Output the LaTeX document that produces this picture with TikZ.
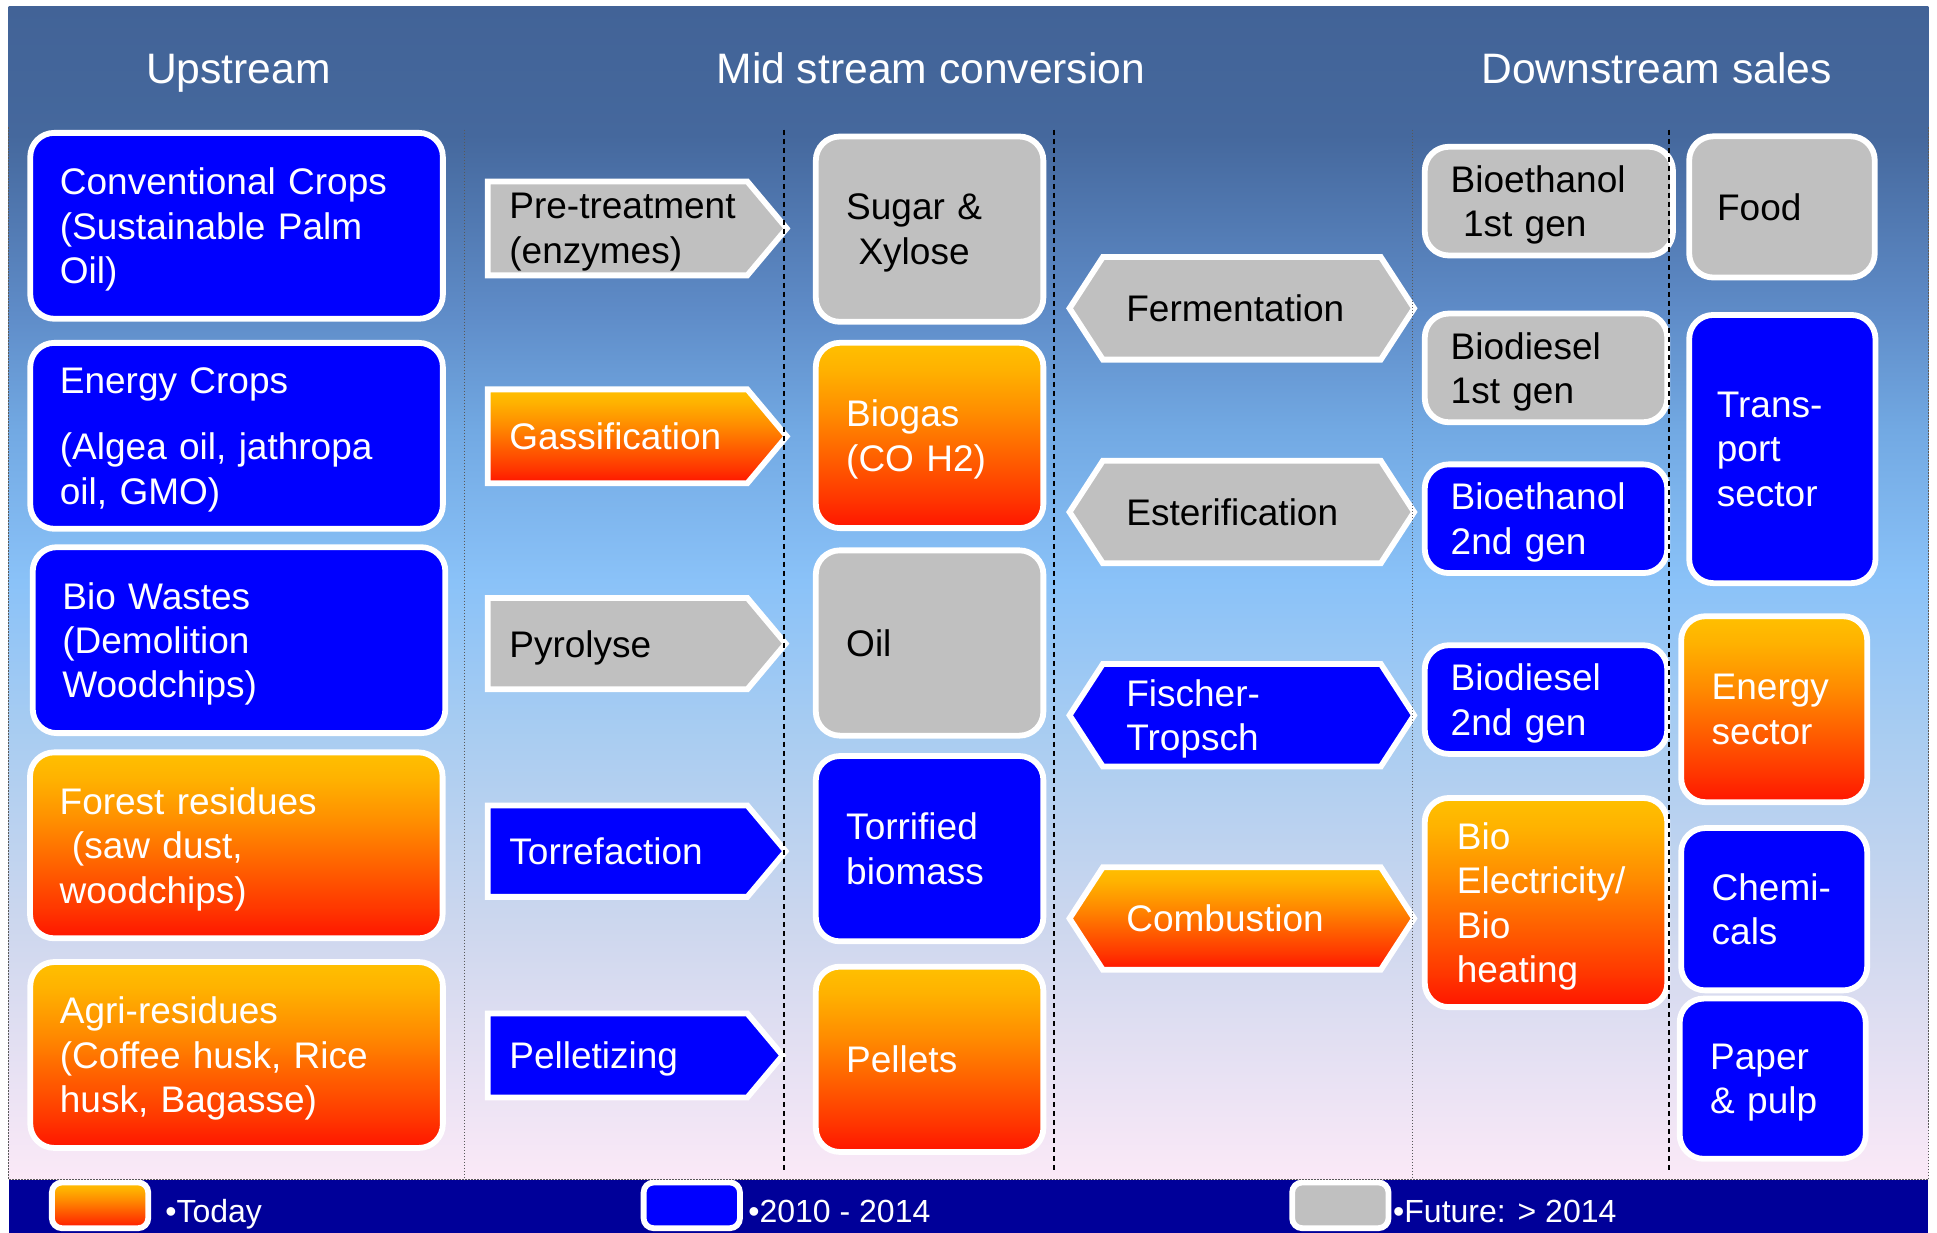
\documentclass[tikz,border=0pt]{standalone}
\usepackage{fontspec}
\setmainfont{Liberation Sans}
\usetikzlibrary{shapes.symbols}

\tikzset{
every picture/.style={
line width=1pt
}}

\definecolor{soonblue}{RGB}{0,0,255}
\definecolor{futuregray}{RGB}{192,192,192}
\definecolor{legendnavy}{RGB}{0,0,153}
\definecolor{bgA}{RGB}{66,99,151}
\definecolor{bgB}{RGB}{69,104,157}
\definecolor{bgC}{RGB}{94,139,199}
\definecolor{bgD}{RGB}{114,169,227}
\definecolor{bgE}{RGB}{138,194,248}
\definecolor{bgF}{RGB}{170,205,241}
\definecolor{bgG}{RGB}{205,215,238}
\definecolor{bgH}{RGB}{251,233,247}
\definecolor{orA}{RGB}{255,192,0}
\definecolor{orB}{RGB}{255,178,0}
\definecolor{orC}{RGB}{255,140,0}
\definecolor{orD}{RGB}{255,95,0}
\definecolor{orE}{RGB}{255,55,0}
\definecolor{orF}{RGB}{255,20,0}

\pgfdeclareverticalshading{bgshade}{100bp}{color(0bp)=(bgH); color(25bp)=(bgH);
  color(35.8bp)=(bgG); color(43.7bp)=(bgF); color(50.5bp)=(bgE); color(56.9bp)=(bgD);
  color(62.1bp)=(bgC); color(69.5bp)=(bgB); color(75bp)=(bgA); color(100bp)=(bgA)}
\pgfdeclareverticalshading{todayshade}{100bp}{color(0bp)=(orF); color(25bp)=(orF);
  color(33bp)=(orE); color(44bp)=(orD); color(56bp)=(orC); color(68bp)=(orB);
  color(75bp)=(orA); color(100bp)=(orA)}

% one unit = one pixel of the 1568 wide layout
\newlength\pu
\setlength\pu{0.61765pt}
% drop the descender of the last line, so text sits centred on its caps
\newcommand\nolastdepth{\par\kern-\prevdepth}

\begin{document}
\begin{tikzpicture}[x=\pu, y=-\pu,
txt/.style = {font=\fontsize{18.5}{22.2}\selectfont, align=left, inner ysep=0pt,
  execute at end node=\nolastdepth},
item/.style = {txt, rectangle, rounded corners=12pt, draw=white, line width=2.9pt},
proc/.style = {txt, signal, signal to=east, signal from=nowhere, signal pointer angle=100,
  draw=white, line width=2.9pt, anchor=west, minimum height=76\pu, text width=175\pu, inner xsep=17.6\pu},
conv/.style = {txt, signal, signal to=west and east, signal from=nowhere, signal pointer angle=114,
  draw=white, line width=2.9pt, anchor=west, minimum height=83\pu, text width=187\pu, inner xsep=19\pu},
col1/.style = {item, text width=286\pu, inner xsep=24\pu, minimum height=150.5\pu},
col3/.style = {item, text width=135\pu, inner xsep=24.6\pu, minimum height=150\pu},
col5/.style = {item, text width=154.3\pu, inner xsep=21\pu, minimum height=88\pu},
col6/.style = {item, text width=101.2\pu, inner xsep=24.7\pu},
today/.style = {shading=todayshade, text=white},
soon/.style = {fill=soonblue, text=white},
future/.style = {fill=futuregray, text=black},
head/.style = {font=\fontsize{21.3}{25}\selectfont, text=white, anchor=base},
keybox/.style = {rectangle, rounded corners=5pt, draw=white, line width=2.9pt,
  minimum width=78\pu, minimum height=37\pu},
keytext/.style = {font=\fontsize{16}{19}\selectfont, text=white, anchor=base west, inner sep=0pt},
dotsep/.style = {draw=black!65, line width=0.5pt, dash pattern=on 0.7pt off 0.8pt},
dashsep/.style = {draw=black, line width=0.9pt, dash pattern=on 2.8pt off 1.7pt}]

\useasboundingbox (0,0) rectangle (1568,998);
\shade[shading=bgshade] (7,5) rectangle (1561,955);
\fill[legendnavy] (7,955) rectangle (1561,998);

\node[head] (upstream) at (193,67.4) {Upstream};
\node[head] (midstream) at (753.5,67.4) {Mid stream conversion};
\node[head] (downstream) at (1341,67.4) {Downstream sales};

% upstream
\node[col1, soon] (crops) at (191.5,182.8) {Conventional Crops\\(Sustainable Palm\\Oil)};
\node[col1, soon] (energycrops) at (191.5,352.8) {Energy Crops\\[11pt](Algea oil, jathropa\\oil, GMO)};
\node[col1, soon] (biowastes) at (193.5,518.2) {Bio Wastes\\(Demolition\\Woodchips)};
\node[col1, today] (forest) at (191.3,684.3) {Forest residues\\~(saw dust,\\woodchips)};
\node[col1, today] (agri) at (191.5,854) {Agri-residues\\(Coffee husk, Rice\\husk, Bagasse)};

% processes
\node[proc, future] (pretreat) at (392.4,184.9) {\mbox{Pre-treatment}\\(enzymes)};
\node[proc, today] (gasif) at (392.4,353.2) {Gassification};
\node[proc, future, minimum height=74\pu] (pyro) at (392.4,521) {Pyrolyse};
\node[proc, soon, minimum height=74\pu] (torref) at (392.4,689) {Torrefaction};
\node[proc, soon, minimum height=68\pu] (pelletize) at (392.4,854.4) {Pelletizing};

% intermediate products
\node[col3, future] (sugar) at (752.5,185.5) {Sugar \&\\~Xylose};
\node[col3, today] (biogas) at (752.5,352.5) {Biogas\\(CO H2)};
\node[col3, future] (oil) at (752.5,520.5) {Oil};
\node[col3, soon] (torrified) at (752.5,687) {Torrified\\biomass};
\node[col3, today] (pellets) at (752.5,857.5) {Pellets};

% conversions
\node[conv, future] (ferment) at (863,249.6) {Fermentation};
\node[conv, future] (ester) at (863,414.5) {Esterification};
\node[conv, soon] (fischer) at (863,579) {Fischer-\\Tropsch};
\node[conv, today] (combust) at (863,743.5) {Combustion};

% fuels
\node[col5, future, text width=158.9\pu] (bioeth1) at (1253.8,162.8) {Bioethanol\\~1st gen};
\node[col5, future] (biodies1) at (1251.5,297.8) {Biodiesel\\1st gen};
\node[col5, soon] (bioeth2) at (1251.5,419.9) {Bioethanol\\2nd gen};
\node[col5, soon] (biodies2) at (1251.5,566.3) {Biodiesel\\2nd gen};
\node[col5, today, text width=144.3\pu, inner xsep=26\pu, minimum height=169.3\pu] (bioelec)
  at (1251.5,730.6) {Bio\\Electricity/\\Bio\\heating};

% sectors
\node[col6, future, inner xsep=22.6\pu, text width=105\pu, minimum height=114.3\pu] (food)
  at (1442.5,167.5) {Food};
\node[col6, soon, inner xsep=22.4\pu, text width=106\pu, minimum height=217.1\pu] (transport)
  at (1442.8,363.5) {Trans-\\port\\sector};
\node[col6, today, minimum height=150.5\pu] (energysec) at (1436.2,574.1) {Energy\\sector};
\node[col6, soon, minimum height=131.4\pu] (chemicals) at (1436.2,736) {Chemi-\\cals};
\node[col6, soon, minimum height=129.7\pu] (paper) at (1435,873.2) {Paper\\\& pulp};

% legend
\node[keybox, today] (keytoday) at (81,975.7) {};
\node[keybox, soon] (keysoon) at (560,975.7) {};
\node[keybox, future] (keyfuture) at (1085,975.7) {};
\node[keytext] (labtoday) at (133,990) {•Today};
\node[keytext] (labsoon) at (605,990) {•2010 - 2014};
\node[keytext] (labfuture) at (1127,990) {•Future: > 2014};

% column separators
\draw[dotsep] (376.4,105) -- (376.4,955);
\draw[dotsep] (1143.5,105) -- (1143.5,955);
\draw[dashsep] (634.7,105) -- (634.7,947);
\draw[dashsep] (853.5,105) -- (853.5,947);
\draw[dashsep] (1351,105) -- (1351,947);
\draw[dotsep] (7,103) -- (7,955) -- (1561,955) -- (1561,103);
\end{tikzpicture}
\end{document}
